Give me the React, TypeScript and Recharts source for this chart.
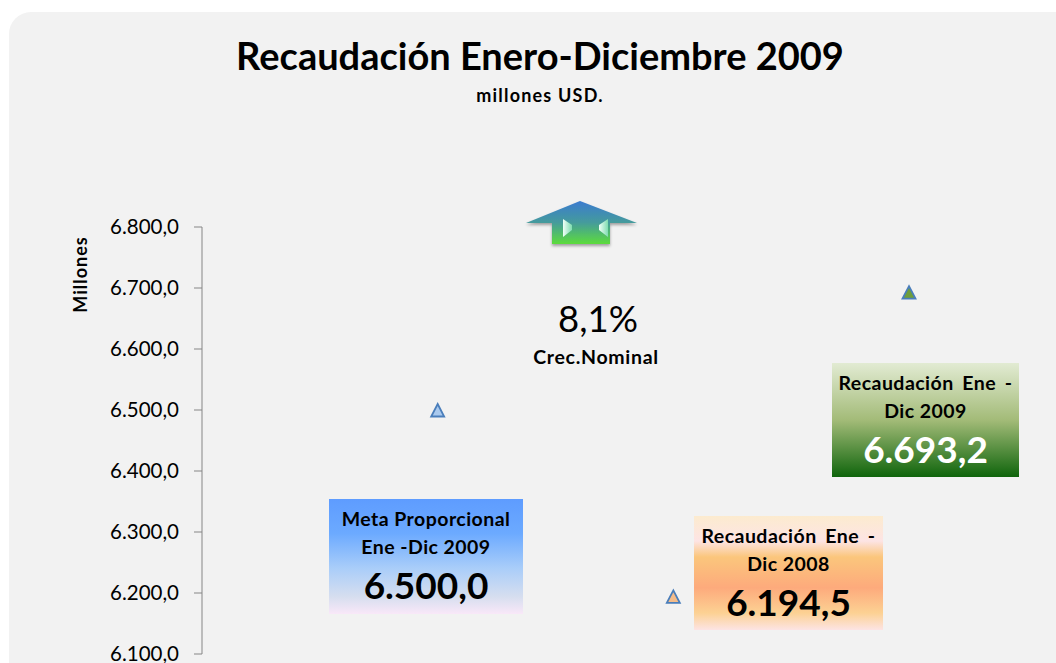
import { LineChart, Line, XAxis, YAxis, Label } from "recharts";

const categories = ["", "Meta Proporcional Ene-Dic 2009", "Recaudación Ene-Dic 2008", "Recaudación Ene-Dic 2009"];
const values = [null, 6500.0, 6194.5, 6693.2];
const yTicks = [6100, 6200, 6300, 6400, 6500, 6600, 6700, 6800];
const markerFills = ["none", "#a9c9ee", "#f4bc8a", "#6f9e3a"];

const FONT = "Lato, 'Open Sans', sans-serif";

const data = categories.map((c, i) => ({ name: c || " ", value: values[i] }));

const fmt = (v: number) =>
  v.toFixed(1).replace(".", ",").replace(/\B(?=(\d{3})(?!\d))/g, ".");

function Triangle(props: any) {
  const { cx, cy, index } = props;
  if (cy == null) return null;
  return (
    <path
      d={`M${cx} ${cy - 6} L${cx + 6.5} ${cy + 6.5} L${cx - 6.5} ${cy + 6.5} Z`}
      fill={markerFills[index]}
      stroke="#4a7ebb"
      strokeWidth={1.8}
    />
  );
}

function Box({ x, y, w, h, grad, lines, value, valueFill, gap = 0 }: any) {
  const mid = x + w / 2;
  return (
    <g fontFamily={FONT} textAnchor="middle">
      <rect x={x} y={y} width={w} height={h} fill={`url(#${grad})`} />
      <text x={mid} y={y + 27} fontSize={19.5} fontWeight={700} letterSpacing={0.45} wordSpacing={gap} fill="#000">{lines[0]}</text>
      <text x={mid} y={y + 55} fontSize={19.5} fontWeight={700} letterSpacing={0.45} fill="#000">{lines[1]}</text>
      <text x={mid} y={y + 100} fontSize={37} fontWeight={700} fill={valueFill}>{value}</text>
    </g>
  );
}

export default function App() {
  return (
    <div style={{ position: "absolute", left: 0, top: 0, width: 1056, height: 663, overflow: "hidden", background: "#fff" }}>
      <div style={{ position: "absolute", left: 9, top: 12, width: 1100, height: 700, borderRadius: 22, background: "#f2f2f2" }} />
      <div style={{ position: "absolute", left: 0, top: 0 }}>
        <LineChart
          width={1056}
          height={663}
          data={data}
          margin={{ top: 227, right: 147, bottom: 9, left: 72 }}
        >
          <defs>
            <linearGradient id="gBlue" x1="0" y1="0" x2="0" y2="1">
              <stop offset="0" stopColor="#5e9cff" />
              <stop offset="0.3" stopColor="#6caaff" />
              <stop offset="0.6" stopColor="#a9cdf9" />
              <stop offset="0.85" stopColor="#d6deef" />
              <stop offset="1" stopColor="#f9e8f8" />
            </linearGradient>
            <linearGradient id="gOrange" x1="0" y1="0" x2="0" y2="1">
              <stop offset="0" stopColor="#fcebcf" />
              <stop offset="0.22" stopColor="#fde4e4" />
              <stop offset="0.36" stopColor="#fbc67c" />
              <stop offset="0.63" stopColor="#fdaa7c" />
              <stop offset="0.85" stopColor="#fcd193" />
              <stop offset="1" stopColor="#fde4e4" />
            </linearGradient>
            <linearGradient id="gGreen" x1="0" y1="0" x2="0" y2="1">
              <stop offset="0" stopColor="#e2ebd3" />
              <stop offset="0.5" stopColor="#a3bb78" />
              <stop offset="1" stopColor="#0f650c" />
            </linearGradient>
            <linearGradient id="gArrow" x1="0" y1="0" x2="0" y2="1">
              <stop offset="0" stopColor="#3a7bd0" />
              <stop offset="0.5" stopColor="#459b9c" />
              <stop offset="1" stopColor="#5cdc3c" />
            </linearGradient>
            <linearGradient id="gShine" x1="0" y1="0" x2="1" y2="0">
              <stop offset="0" stopColor="#f0fff8" />
              <stop offset="1" stopColor="#7fdcb0" />
            </linearGradient>
            <filter id="shadow" x="-20%" y="-20%" width="140%" height="140%">
              <feDropShadow dx="0" dy="2" stdDeviation="1.5" floodColor="#000" floodOpacity="0.35" />
            </filter>
          </defs>

          <text x={540} y={70} textAnchor="middle" fontFamily={FONT} fontSize={38} fontWeight={700} fill="#000">
            Recaudación Enero-Diciembre 2009
          </text>
          <text x={540} y={102} textAnchor="middle" fontFamily={FONT} fontSize={18} fontWeight={700} letterSpacing={1.2} fill="#000">
            millones USD.
          </text>

          <XAxis dataKey="name" scale="point" padding={{ left: 0, right: 0 }} hide />
          <YAxis
            domain={[6100, 6800]}
            ticks={yTicks}
            interval={0}
            width={130}
            tickFormatter={fmt}
            tick={{ fontFamily: FONT, fontSize: 20.5, fill: "#000" }}
            tickLine={{ stroke: "#868686" }}
            axisLine={{ stroke: "#868686" }}
            tickSize={8}
            tickMargin={15}
          >
            <Label
              value="Millones"
              angle={-90}
              position="insideLeft"
              offset={9}
              style={{ fontFamily: FONT, fontSize: 18, fontWeight: 700, letterSpacing: 1, fill: "#000", textAnchor: "middle" }}
              dy={-166}
            />
          </YAxis>
          <Line
            dataKey="value"
            stroke="none"
            dot={<Triangle />}
            activeDot={false}
            connectNulls={false}
            isAnimationActive={false}
          />

          <g filter="url(#shadow)">
            <path d="M580 201 L637 223 L610 223 L610 244 L552 244 L552 223 L526 223 Z" fill="url(#gArrow)" />
          </g>
          <path d="M563 219 L572 225 L572 230 L563 237 Z" fill="url(#gShine)" />
          <path d="M608 219 L599 225 L599 230 L608 237 Z" fill="url(#gShine)" />

          <text x={598} y={332} textAnchor="middle" fontFamily={FONT} fontSize={36.5} fill="#000">8,1%</text>
          <text x={596} y={364} textAnchor="middle" fontFamily={FONT} fontSize={19.5} fontWeight={700} letterSpacing={0.7} fill="#000">Crec.Nominal</text>

          <Box x={329} y={499} w={194} h={115} grad="gBlue" lines={["Meta Proporcional", "Ene -Dic 2009"]} value="6.500,0" valueFill="#000" />
          <Box x={694} y={516} w={189} h={114} grad="gOrange" gap={3.5} lines={["Recaudación Ene -", "Dic 2008"]} value="6.194,5" valueFill="#000" />
          <Box x={832} y={363} w={187} h={114} grad="gGreen" gap={3.5} lines={["Recaudación Ene -", "Dic 2009"]} value="6.693,2" valueFill="#fff" />
        </LineChart>
      </div>
    </div>
  );
}
